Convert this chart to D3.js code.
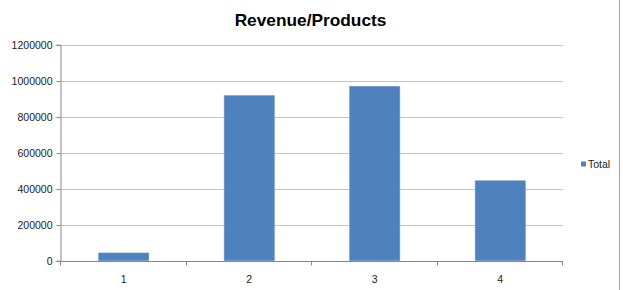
<!DOCTYPE html>
<html><head><meta charset="utf-8">
<script src="https://cdn.jsdelivr.net/npm/d3@7"></script>
<style>body{margin:0;background:#fff;} svg{display:block;}</style>
</head><body>
<svg id="c" width="623" height="290"></svg>
<script>
const categories = ["1", "2", "3", "4"];
const totals = [43000, 917000, 969000, 444000];
const yTicks = [0, 200000, 400000, 600000, 800000, 1000000, 1200000];
const seriesName = "Total";
const title = "Revenue/Products";

const svg = d3.select("#c");
const W = 623, H = 290;
const m = {left: 61, right: 563, top: 44.7, bottom: 260.7};
const font = "'Liberation Sans', Arial, sans-serif";

svg.append("rect").attr("width", W).attr("height", H).attr("fill", "#fff");
svg.append("line").attr("x1", 619.5).attr("x2", 619.5).attr("y1", 0).attr("y2", H)
  .attr("stroke", "#a6a6a6").attr("stroke-width", 1);

const x = d3.scaleBand().domain(categories).range([m.left, m.right]).paddingInner(0.6).paddingOuter(0.3);
const y = d3.scaleLinear().domain([0, 1200000]).range([m.bottom, m.top]);

// gridlines
svg.append("g").selectAll("line").data(yTicks.filter(d => d > 0)).join("line")
  .attr("x1", m.left).attr("x2", m.right)
  .attr("y1", d => Math.round(y(d)) + 0.5).attr("y2", d => Math.round(y(d)) + 0.5)
  .attr("stroke", "#c4c4c4").attr("stroke-width", 1);

// y axis
const yAxis = d3.axisLeft(y).tickValues(yTicks).tickSize(4).tickPadding(4).tickFormat(d3.format("d"));
const gy = svg.append("g").attr("transform", `translate(${m.left - 0.5},0)`).call(yAxis);
gy.select(".domain").attr("stroke", "#868686");
gy.selectAll(".tick line").attr("stroke", "#868686");
gy.selectAll(".tick text").attr("font-family", font).attr("font-size", 10.5).attr("fill", "#1a1a1a");
gy.selectAll(".tick").attr("transform", d => `translate(0,${Math.round(y(d)) + 0.5})`);

// bars
svg.append("g").selectAll("rect").data(totals).join("rect")
  .attr("x", (d, i) => x(categories[i]))
  .attr("width", x.bandwidth())
  .attr("y", d => y(d))
  .attr("height", d => y(0) - y(d))
  .attr("fill", "#4f81bd")
  .attr("stroke", "#7099cc").attr("stroke-width", 0.6);

// x axis
const by = Math.round(y(0)) + 0.5;
svg.append("line").attr("x1", m.left).attr("x2", m.right).attr("y1", by).attr("y2", by)
  .attr("stroke", "#868686");
const step = x.step();
const bounds = d3.range(categories.length + 1).map(i => m.left + i * step);
svg.append("g").selectAll("line").data(bounds).join("line")
  .attr("x1", d => Math.round(d) - 0.5).attr("x2", d => Math.round(d) - 0.5)
  .attr("y1", by).attr("y2", by + 4).attr("stroke", "#868686");
svg.append("g").selectAll("text").data(categories).join("text")
  .attr("x", d => x(d) + x.bandwidth() / 2)
  .attr("y", 283)
  .attr("text-anchor", "middle")
  .attr("font-family", font).attr("font-size", 10.5).attr("fill", "#1a1a1a")
  .text(d => d);

// title
svg.append("text").attr("x", 310.5).attr("y", 26).attr("text-anchor", "middle")
  .attr("font-family", font).attr("font-weight", "bold").attr("font-size", 17.3).attr("fill", "#000")
  .text(title);

// legend
svg.append("rect").attr("x", 581).attr("y", 161.5).attr("width", 5).attr("height", 5).attr("fill", "#4f81bd");
svg.append("text").attr("x", 588).attr("y", 168).attr("font-family", font).attr("font-size", 10.5)
  .attr("fill", "#1a1a1a").text(seriesName);
</script>
</body></html>
